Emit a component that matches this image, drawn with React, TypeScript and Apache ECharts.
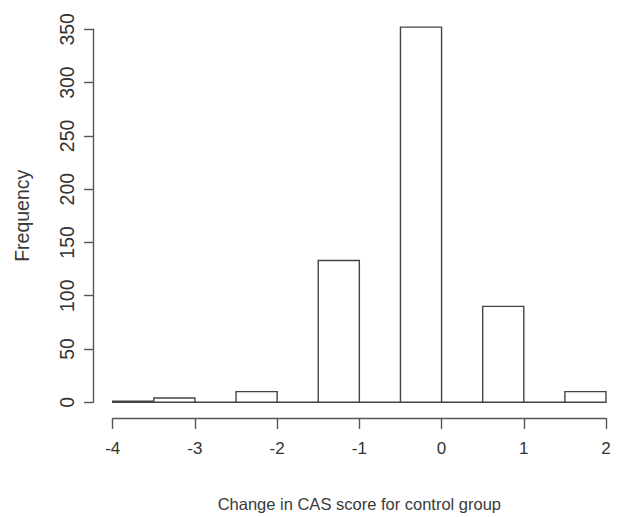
import React, { useEffect, useRef } from "react";
import * as echarts from "echarts";

const binStarts = [-4, -3.5, -3, -2.5, -2, -1.5, -1, -0.5, 0, 0.5, 1, 1.5];
const binWidth = 0.5;
const counts = [1, 4, 0, 10, 0, 133, 0, 352, 0, 90, 0, 10];
const xTicks = [-4, -3, -2, -1, 0, 1, 2];
const yTicks = [0, 50, 100, 150, 200, 250, 300, 350];
const xTitle = "Change in CAS score for control group";
const yTitle = "Frequency";

export default function App() {
  const ref = useRef<HTMLDivElement>(null);
  useEffect(() => {
    if (!ref.current) return;
    const chart = echarts.init(ref.current, undefined, { renderer: "svg" });
    const data = binStarts.map((s, i) => [s, s + binWidth, counts[i]]);
    const font = "'Liberation Sans', Arial, sans-serif";
    chart.setOption({
      animation: false,
      backgroundColor: "#ffffff",
      grid: { left: 112.7, top: 29.3, width: 493.3, height: 373, containLabel: false },
      xAxis: {
        type: "value",
        min: xTicks[0],
        max: xTicks[xTicks.length - 1],
        interval: 1,
        position: "bottom",
        offset: 15.7,
        name: xTitle,
        nameLocation: "middle",
        nameGap: 77,
        nameTextStyle: { fontFamily: font, fontSize: 16.5, color: "#3a3a3a" },
        axisLine: { show: true, onZero: false, lineStyle: { color: "#555", width: 1.4 } },
        axisTick: { show: true, length: 11, inside: false, lineStyle: { color: "#555", width: 1.4 } },
        axisLabel: { margin: 22, fontFamily: font, fontSize: 17, color: "#333" },
        splitLine: { show: false },
      },
      yAxis: {
        type: "value",
        min: yTicks[0],
        max: yTicks[yTicks.length - 1],
        interval: 50,
        position: "left",
        offset: 19.7,
        name: yTitle,
        nameLocation: "middle",
        nameGap: 61,
        nameRotate: 90,
        nameTextStyle: { fontFamily: font, fontSize: 19.5, color: "#3a3a3a" },
        axisLine: { show: true, onZero: false, lineStyle: { color: "#555", width: 1.4 } },
        axisTick: { show: true, length: 9, inside: false, lineStyle: { color: "#555", width: 1.4 } },
        axisLabel: { margin: 16, rotate: 90, fontFamily: font, fontSize: 19.5, color: "#333" },
        splitLine: { show: false },
      },
      series: [
        {
          type: "custom",
          clip: false,
          data,
          encode: { x: [0, 1], y: 2 },
          renderItem: (params: any, api: any) => {
            const x0 = api.value(0);
            const x1 = api.value(1);
            const c = api.value(2);
            const p0 = api.coord([x0, 0]);
            const p1 = api.coord([x1, c]);
            return {
              type: "polygon",
              shape: {
                points: [
                  [p0[0], p0[1]],
                  [p0[0], p1[1]],
                  [p1[0], p1[1]],
                  [p1[0], p0[1]],
                ],
              },
              style: { fill: "#ffffff", stroke: "#444", lineWidth: 1.4 },
            };
          },
        },
      ],
    });
    return () => chart.dispose();
  }, []);
  return (
    <div
      ref={ref}
      style={{ position: "fixed", left: 0, top: 0, width: 619, height: 517 }}
    />
  );
}
